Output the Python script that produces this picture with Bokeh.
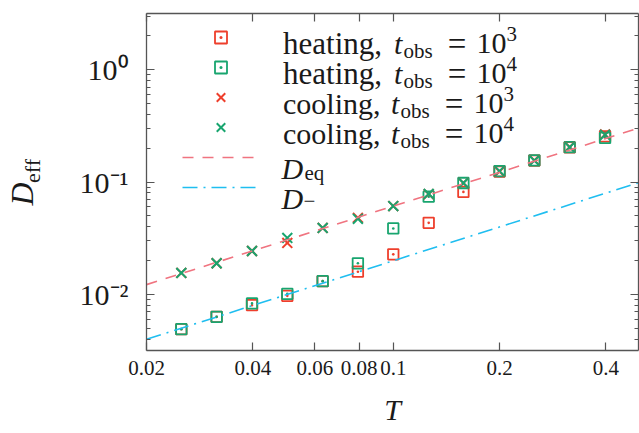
from bokeh.plotting import figure
from bokeh.models import (Range1d, FixedTicker, LogAxis, Label, Legend, LegendItem)
from bokeh.embed import file_html
from bokeh.resources import INLINE

# ---- data ----
T = [0.0251, 0.0316, 0.0398, 0.0501, 0.0631, 0.0794, 0.1, 0.126, 0.158, 0.2, 0.251, 0.316, 0.398]
heat_1e3 = [0.0049, 0.0063, 0.0080, 0.0097, 0.0131, 0.0159, 0.0227, 0.0433, 0.0816, 0.124, 0.155, 0.203, 0.255]
heat_1e4 = [0.0049, 0.0063, 0.0083, 0.0101, 0.0131, 0.0189, 0.0386, 0.074, 0.098, 0.125, 0.156, 0.204, 0.247]
cool_1e3 = [0.0155, 0.0189, 0.0243, 0.0287, 0.039, 0.048, 0.061, 0.078, 0.098, 0.124, 0.156, 0.205, 0.265]
cool_1e4 = [0.0155, 0.0189, 0.0243, 0.0318, 0.039, 0.047, 0.061, 0.0784, 0.098, 0.125, 0.155, 0.204, 0.263]
T_line = [0.02, 0.495]
D_eq_line = [0.0122, 0.302]
D_minus_line = [0.00398, 0.0985]

x_ticks = [0.02, 0.04, 0.06, 0.08, 0.1, 0.2, 0.4]
x_tick_labels = ["0.02", "0.04", "0.06", "0.08", "0.1", "0.2", "0.4"]
y_ticks = [0.01, 0.1, 1.0]
y_tick_labels = ["10\u207b\u00b2", "10\u207b\u00b9", "10\u2070"]

RED = "#ee3f2c"
GREEN = "#18a56f"
PINK = "#f07480"
CYAN = "#1fbef0"
AX = "#555555"
TXT = "#1a1a1a"
FONT = "Liberation Serif"
NB = "\u00a0"

L, R, TOP, BOT = 145, 1, 13, 83
W, H = 639, 433

p = figure(width=W, height=H, x_axis_type="log", y_axis_type="log",
           x_range=Range1d(0.02, 0.495), y_range=Range1d(10 ** -2.5, 10 ** 0.5),
           output_backend="svg", toolbar_location=None,
           min_border_left=L, min_border_right=R, min_border_top=TOP, min_border_bottom=BOT,
           x_axis_location=None, y_axis_location=None)
p.outline_line_color = None
p.xgrid.visible = False
p.ygrid.visible = False
p.background_fill_color = "white"
p.border_fill_color = "white"

y_minor = [m * 10 ** k for k in range(-3, 1) for m in range(2, 10)]
xt = FixedTicker(ticks=x_ticks, minor_ticks=[])
yt = FixedTicker(ticks=y_ticks, minor_ticks=y_minor)


def style_axis(ax, show_labels, overrides, font_size, standoff):
    ax.axis_line_color = AX
    ax.axis_line_width = 1.3
    ax.major_tick_line_color = AX
    ax.minor_tick_line_color = AX
    ax.major_tick_line_width = 1.2
    ax.minor_tick_line_width = 1.0
    ax.major_tick_in = 8
    ax.major_tick_out = 0
    ax.minor_tick_in = 4
    ax.minor_tick_out = 0
    if show_labels:
        ax.major_label_overrides = overrides
        ax.major_label_text_font = FONT
        ax.major_label_text_font_size = font_size
        ax.major_label_text_color = TXT
        ax.major_label_standoff = standoff
    else:
        ax.major_label_overrides = {k: "" for k in overrides}
        ax.major_label_text_font_size = "0px"
        ax.major_label_standoff = 0


xo = {t: s for t, s in zip(x_ticks, x_tick_labels)}
yo = {t: s for t, s in zip(y_ticks, y_tick_labels)}

# bottom axis with x label "T"
bx = LogAxis(ticker=xt)
style_axis(bx, True, xo, "21px", 10)
bx.axis_label = "T"
bx.axis_label_text_font = FONT
bx.axis_label_text_font_size = "30px"
bx.axis_label_text_font_style = "italic"
bx.axis_label_text_color = TXT
bx.axis_label_standoff = 15
p.add_layout(bx, "below")

tx = LogAxis(ticker=xt)
style_axis(tx, False, xo, "0px", 0)
p.add_layout(tx, "above")

# left axis: tick labels + subscript "eff" of the y label
ly = LogAxis(ticker=yt)
style_axis(ly, True, yo, "30px", 18)
ly.axis_label = NB * 4 + "eff"
ly.axis_label_text_font = FONT
ly.axis_label_text_font_size = "22px"
ly.axis_label_text_font_style = "normal"
ly.axis_label_text_color = TXT
ly.axis_label_standoff = 32
p.add_layout(ly, "left")

# outer left axis carrying only the italic "D" of the y label
dy = LogAxis(ticker=FixedTicker(ticks=[], minor_ticks=[]))
dy.axis_line_color = None
dy.major_tick_line_color = None
dy.minor_tick_line_color = None
dy.major_tick_out = 0
dy.major_tick_in = 0
dy.minor_tick_out = 0
dy.minor_tick_in = 0
dy.major_label_standoff = 0
dy.major_label_text_font_size = "0px"
dy.axis_label = "D" + NB * 3
dy.axis_label_text_font = FONT
dy.axis_label_text_font_size = "32px"
dy.axis_label_text_font_style = "italic"
dy.axis_label_text_color = TXT
dy.axis_label_standoff = -23
p.add_layout(dy, "left")

ry = LogAxis(ticker=yt)
style_axis(ry, False, yo, "0px", 0)
p.add_layout(ry, "right")

# ---- data marks ----
r1 = p.scatter(T, heat_1e3, marker="square_dot", size=10.5, line_color=RED, fill_color=None, line_width=1.8)
r2 = p.scatter(T, heat_1e4, marker="square_dot", size=10.5, line_color=GREEN, fill_color=None, line_width=1.8)
r3 = p.scatter(T, cool_1e3, marker="x", size=14, line_color=RED, line_width=2.0)
r4 = p.scatter(T, cool_1e4, marker="x", size=14, line_color=GREEN, line_width=2.0)
r5 = p.line(T_line, D_eq_line, line_color=PINK, line_width=1.6, line_dash="11 9")
r6 = p.line(T_line, D_minus_line, line_color=CYAN, line_width=1.6, line_dash="15 6 2 6")

# ---- legend samples (text drawn separately) ----
legend = Legend(items=[LegendItem(label=" ", renderers=[r]) for r in (r1, r2, r3, r4, r5, r6)],
                location=(36, 350 - 202), glyph_width=77, glyph_height=30, spacing=0,
                label_height=30, label_standoff=0, padding=0, margin=0,
                label_text_font_size="1px", border_line_alpha=0, background_fill_alpha=0,
                inactive_fill_alpha=0)
p.add_layout(legend)


def lab(text, X, Y, size, italic=False, align="left"):
    p.add_layout(Label(x=X - L, y=(H - BOT) - Y, x_units="screen", y_units="screen",
                       text=text, text_font=FONT, text_font_size=f"{size}px",
                       text_font_style="italic" if italic else "normal",
                       text_color=TXT, text_baseline="alphabetic", text_align=align))


legend_words = ["heating,", "heating,", "cooling,", "cooling,"]
legend_exps = ["3", "4", "3", "4"]
for i, (word, ex) in enumerate(zip(legend_words, legend_exps)):
    base = 43.3 + 30 * i
    heating = word.startswith("heating")
    dx = 0 if heating else -3
    lab(word, 281.5, base, 31 if heating else 30)
    lab("t", 392.5 + dx, base, 30, italic=True)
    lab("obs", 402 + dx, base + 6.7, 21)
    lab("=", 455.5 + dx, base, 33, align="center")
    lab("10", 475 + dx, base, 30)
    lab(ex, 505 + dx, base - 10, 21)

lab("D", 280, 168.3, 30, italic=True)
lab("eq", 303, 172.8, 21)
lab("D", 280, 198, 30, italic=True)
lab("\u2212", 302, 200, 21)

open("out.html", "w").write(file_html(p, INLINE))
